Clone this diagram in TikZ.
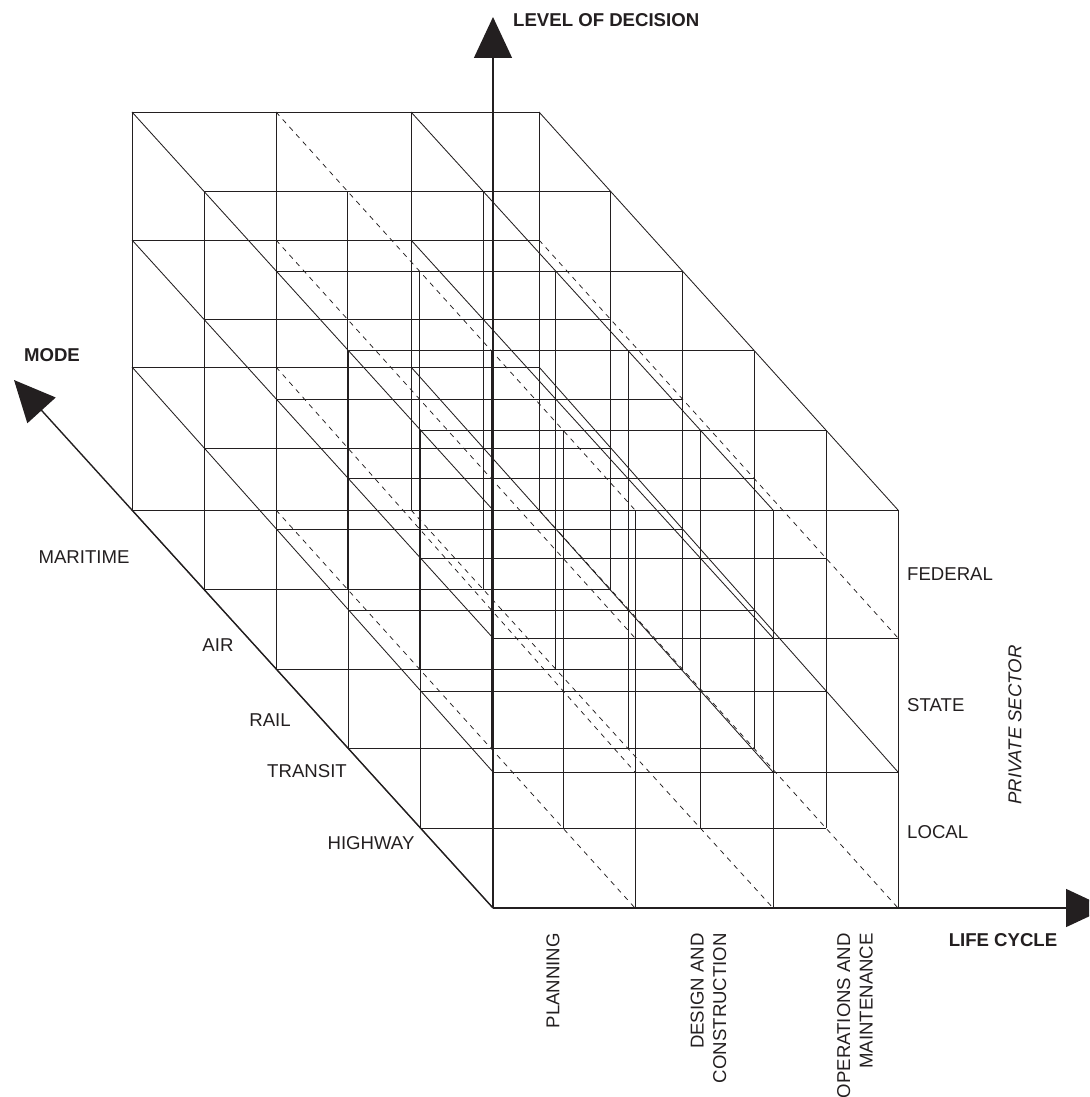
\documentclass[tikz,border=0pt]{standalone}
\usepackage{fontspec}
\setmainfont{Liberation Sans}
\usetikzlibrary{calc,arrows.meta}
\definecolor{ink}{RGB}{35,31,32}
\begin{document}
\begin{tikzpicture}[x=1pt,y=-1pt,
  gridline/.style={draw=ink,line width=0.85pt},
  hiddenline/.style={draw=ink,line width=0.75pt,dash pattern=on 5pt off 5pt},
  axisline/.style={draw=ink,line width=1.4pt,-{Triangle[length=41pt,width=38pt]}},
  lbl/.style={text=ink,inner sep=0pt,font=\fontsize{18.6}{22.5}\selectfont},
  blbl/.style={text=ink,inner sep=0pt,font=\fontsize{18.6}{22.5}\selectfont\bfseries},
  vlbl/.style={lbl,rotate=90,anchor=east,align=right},
]
\useasboundingbox (0,0) rectangle (1089,1097);
\clip (0,0) rectangle (1089,1097);

% corner points of the back face (B) and the front face (F)
\foreach \i/\bx/\fx in {0/132/493,1/276/635,2/411/773,3/539/898}{
  \foreach \j/\by/\fy in {0/510/908,1/367/772,2/240/638,3/112/510}{
    \coordinate (B\i\j) at (\bx,\by);
    \coordinate (F\i\j) at (\fx,\fy);
  }
}

% six faces, each a 3x3 grid
\foreach \k in {0,...,5}{
  \foreach \i in {0,...,3}{
    \draw[gridline] ($(B\i0)!\k/5!(F\i0)$) -- ($(B\i3)!\k/5!(F\i3)$);
  }
  \foreach \j in {0,...,3}{
    \draw[gridline] ($(B0\j)!\k/5!(F0\j)$) -- ($(B3\j)!\k/5!(F3\j)$);
  }
}

% depth lines
\foreach \i/\j/\st in {0/0/gridline,0/1/gridline,0/2/gridline,0/3/gridline,
  1/0/hiddenline,1/1/hiddenline,1/2/hiddenline,1/3/hiddenline,
  2/0/hiddenline,2/1/gridline,2/2/gridline,2/3/gridline,
  3/0/hiddenline,3/1/gridline,3/2/hiddenline,3/3/gridline}{
  \draw[\st] (B\i\j) -- (F\i\j);
}

% axes
\coordinate (O) at (493,908);
\coordinate (Ztip) at (493,17);
\coordinate (Xtip) at (1107,908);
\coordinate (Mtip) at (14,380);
\draw[axisline] (O) -- (Ztip);
\draw[axisline] (O) -- (Xtip);
\draw[axisline] (O) -- (Mtip);

% labels
\node[blbl,anchor=west] (lod) at (513,20) {LEVEL OF DECISION};
\node[blbl] (mode) at (52,355) {MODE};
\node[blbl] (lc) at (1003,940) {LIFE CYCLE};
\node[lbl] (mar) at (84,557) {MARITIME};
\node[lbl] (air) at (218,645) {AIR};
\node[lbl] (rail) at (270,720) {RAIL};
\node[lbl] (tra) at (307,771) {TRANSIT};
\node[lbl] (hwy) at (371,843) {HIGHWAY};
\node[lbl,anchor=west] (fed) at (907,574) {FEDERAL};
\node[lbl,anchor=west] (sta) at (907,705) {STATE};
\node[lbl,anchor=west] (loc) at (907,832) {LOCAL};
\node[lbl,rotate=90,font=\fontsize{18.6}{22.5}\selectfont\itshape] (ps) at (1015,725) {PRIVATE SECTOR};
\node[vlbl] (pl) at (553,933) {PLANNING};
\node[vlbl] (dc) at (708.5,933) {DESIGN AND\\CONSTRUCTION};
\node[vlbl] (om) at (855,933) {OPERATIONS AND\\MAINTENANCE};
\end{tikzpicture}
\end{document}
